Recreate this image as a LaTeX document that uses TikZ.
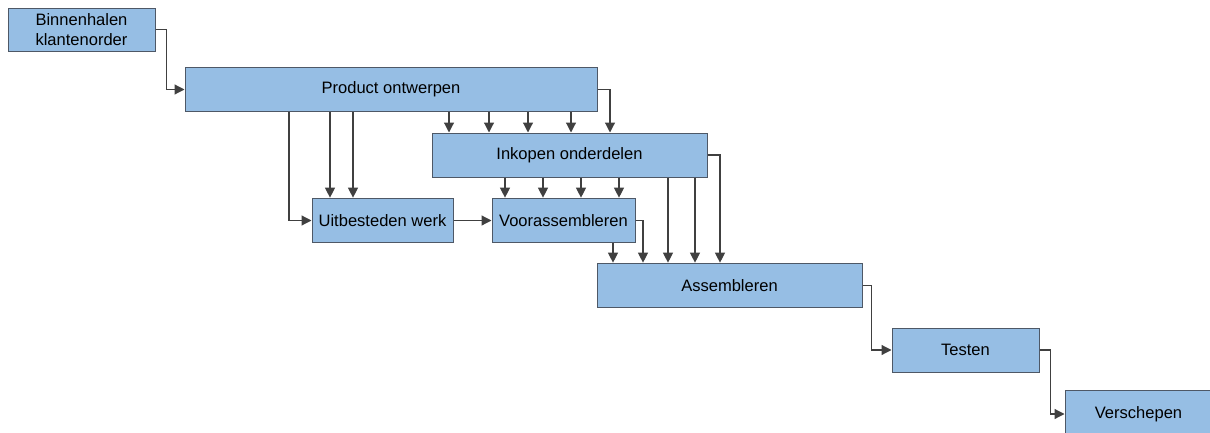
\documentclass[tikz,border=0pt]{standalone}
\usepackage{fontspec}
\setmainfont{Liberation Sans}
\usetikzlibrary{arrows.meta}
\definecolor{blkfill}{RGB}{150,190,228}
\definecolor{blkline}{RGB}{78,88,102}
\definecolor{arrline}{RGB}{64,64,64}
\begin{document}
\begin{tikzpicture}[
      x=0.75pt,y=-0.75pt,
      blk/.style={rectangle,draw=blkline,line width=0.75pt,fill=blkfill,
        minimum height=33.5pt,inner sep=0pt,align=center,
        font=\fontsize{12.4}{14.5}\selectfont},
      arr/.style={draw=arrline,line width=0.9pt,
        -{Triangle[length=7.5pt,width=7.5pt]}},
    ]
    \useasboundingbox (0,0) rectangle (1210,432);
    \node[blk,minimum width=110.25pt,minimum height=32.25pt] (bin) at (81.5,29.5) {Binnenhalen\\klantenorder};
    \node[blk,minimum width=309pt] (po) at (391,89.5) {Product ontwerpen};
    \node[blk,minimum width=206.25pt,minimum height=33pt] (ink) at (569.5,155) {Inkopen onderdelen};
    \node[blk,minimum width=105.75pt] (uit) at (382.5,220.5) {Uitbesteden werk};
    \node[blk,minimum width=107.25pt] (voor) at (563.5,220.5) {Voorassembleren};
    \node[blk,minimum width=198.75pt] (ass) at (729.5,285.5) {Assembleren};
    \node[blk,minimum width=110.25pt,minimum height=33pt] (test) at (965.5,350) {Testen};
    \node[blk,minimum width=110.25pt,minimum height=36pt] (vers) at (1138.5,414) {Verschepen};
    \draw[arr] (bin.east) -- ++(11,0) |- (po.west);
    \draw[arr] (po.east) -| (ink.north -| 610,0);
    \foreach \x in {449,489,528,571}{
      \draw[arr] (po.south -| \x,0) -- (ink.north -| \x,0);
    };
    \foreach \x in {330,353}{
      \draw[arr] (po.south -| \x,0) -- (uit.north -| \x,0);
    };
    \draw[arr] (po.south -| 289,0) |- (uit.west);
    \draw[arr] (ink.east) -| (ass.north -| 720,0);
    \foreach \x in {505,543,581,619}{
      \draw[arr] (ink.south -| \x,0) -- (voor.north -| \x,0);
    };
    \foreach \x in {668,695}{
      \draw[arr] (ink.south -| \x,0) -- (ass.north -| \x,0);
    };
    \draw[arr] (uit.east) -- (voor.west);
    \draw[arr] (voor.east) -| (ass.north -| 643,0);
    \draw[arr] (voor.south -| 613,0) -- (ass.north -| 613,0);
    \draw[arr] (ass.east) -- ++(9,0) |- (test.west);
    \draw[arr] (test.east) -- ++(11,0) |- (vers.west);
  \end{tikzpicture}
\end{document}
